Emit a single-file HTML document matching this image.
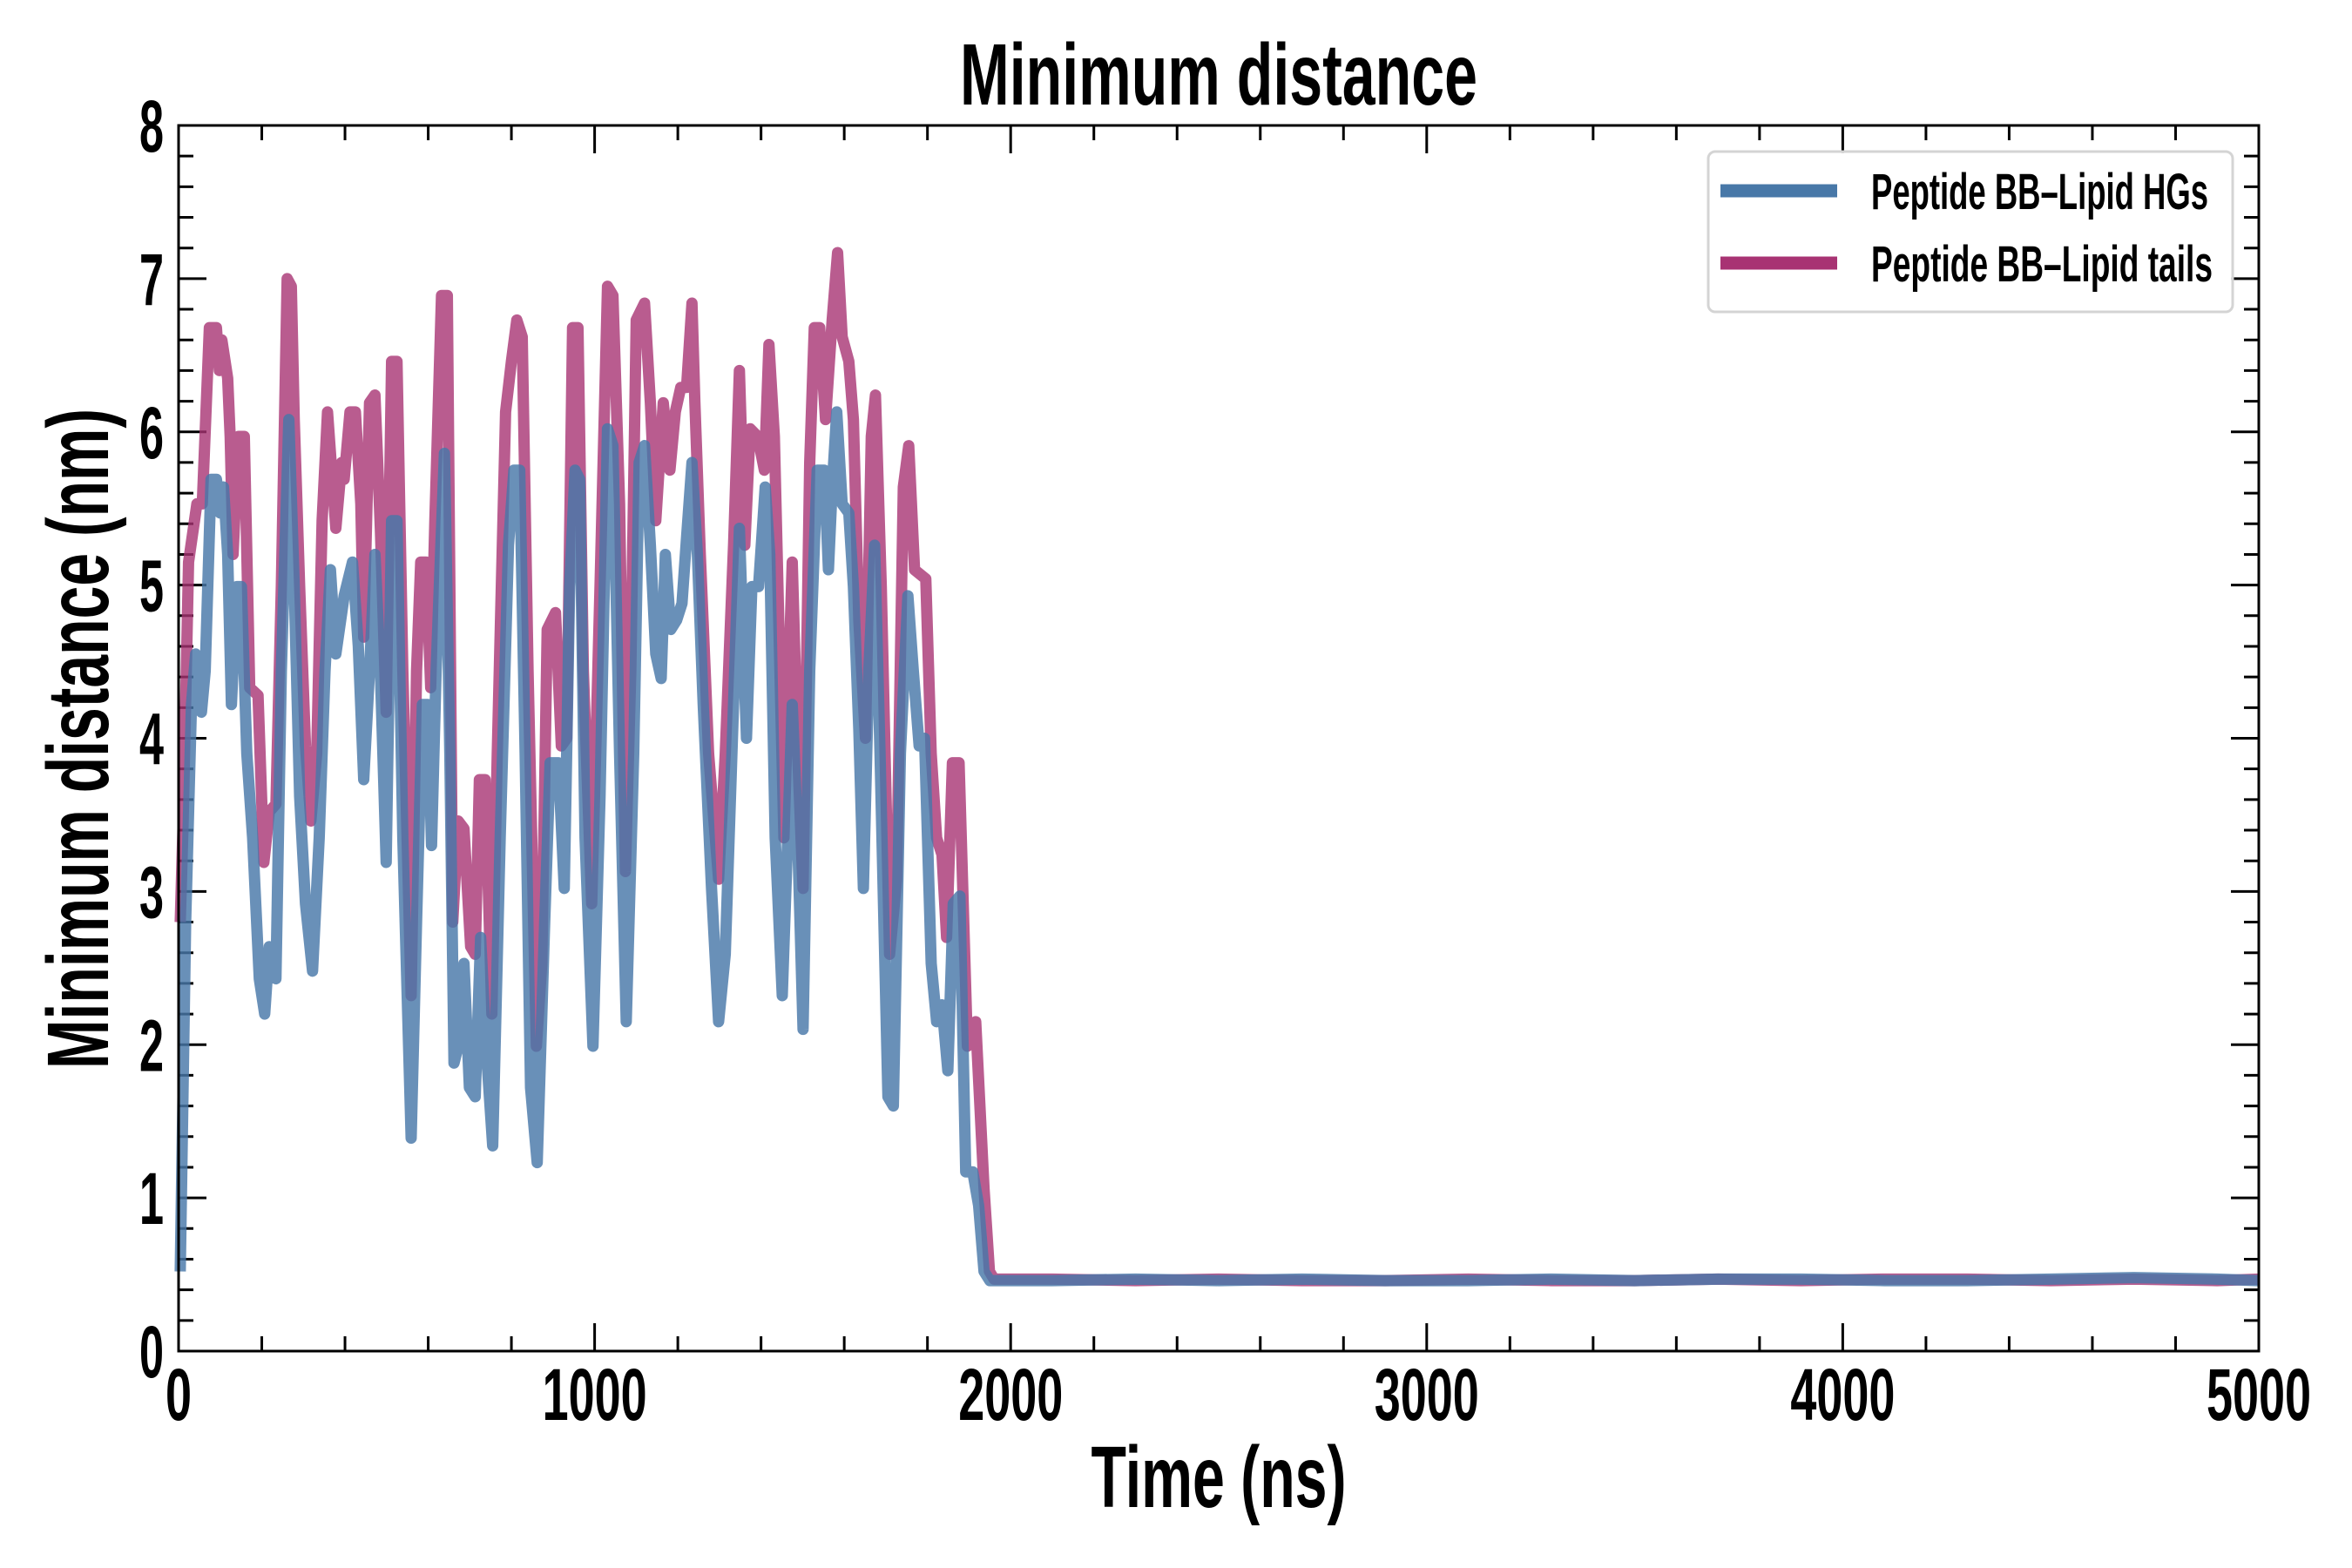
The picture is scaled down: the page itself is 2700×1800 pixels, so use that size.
<!DOCTYPE html>
<html><head><meta charset="utf-8"><style>
html,body{margin:0;padding:0;background:#fff;width:2700px;height:1800px;overflow:hidden}
svg text{font-family:"Liberation Sans Narrow","Liberation Sans",sans-serif;font-weight:bold;fill:#000}
</style></head><body>
<svg id="chart" width="2700" height="1800" viewBox="0 0 2700 1800" xmlns="http://www.w3.org/2000/svg">
<text x="1399" y="120" font-size="100" text-anchor="middle" textLength="594" lengthAdjust="spacingAndGlyphs">Minimum distance</text>
<text x="1399" y="1730" font-size="100" text-anchor="middle" textLength="293" lengthAdjust="spacingAndGlyphs">Time (ns)</text>
<text transform="translate(124,848) rotate(-90)" x="0" y="0" font-size="100" text-anchor="middle" textLength="758" lengthAdjust="spacingAndGlyphs">Minimum distance (nm)</text>
<g id="ticks"></g>
<g id="lines"></g>
<rect x="205" y="144" width="2388" height="1407" fill="none" stroke="#000" stroke-width="3"/>
<g>
<rect x="1961" y="174" width="602" height="184" rx="8" fill="#fff" fill-opacity="0.85" stroke="#d4d4d4" stroke-width="3"/>
<line x1="1975" y1="219" x2="2109" y2="219" stroke="#4878a8" stroke-width="15"/>
<text x="2148" y="240" font-size="58" textLength="387" lengthAdjust="spacingAndGlyphs">Peptide BB–Lipid HGs</text>
<line x1="1975" y1="302" x2="2109" y2="302" stroke="#a83373" stroke-width="15"/>
<text x="2148" y="323" font-size="58" textLength="392" lengthAdjust="spacingAndGlyphs">Peptide BB–Lipid tails</text>
</g>
</svg>
<script>
const xTicks=[0,1000,2000,3000,4000,5000];
const yTicks=[0,1,2,3,4,5,6,7,8];
const tailsT=[4,11,24,44,57,74,91,98,104,118,124,131,144,158,171,191,205,218,234,247,261,271,278,291,305,318,332,345,358,378,392,398,412,425,438,445,459,472,485,499,512,525,539,559,572,582,595,606,616,632,646,659,672,686,702,713,723,737,753,766,786,800,813,826,840,860,873,886,906,920,933,947,960,973,993,1013,1031,1044,1060,1074,1087,1100,1120,1134,1147,1165,1181,1194,1207,1221,1234,1241,1254,1274,1298,1314,1334,1348,1361,1374,1392,1408,1419,1432,1455,1475,1488,1501,1517,1528,1541,1555,1571,1584,1595,1611,1622,1635,1651,1665,1675,1689,1709,1726,1742,1755,1769,1796,1809,1822,1835,1846,1860,1876,1896,1916,1936,1949,1960,2100,2300,2500,2700,2900,3100,3300,3500,3700,3900,4100,4300,4500,4700,4900,5000];
const tailsV=[2.8,3.46,5.15,5.53,5.53,6.68,6.68,6.4,6.6,6.35,5.97,5.2,5.97,5.97,4.33,4.28,3.19,3.52,3.57,4.99,7.0,6.95,6.08,4.99,3.95,3.46,3.9,5.42,6.13,5.37,5.8,5.69,6.13,6.13,5.53,4.66,6.19,6.24,5.37,4.17,6.46,6.46,4.44,2.32,4.44,5.15,5.15,4.33,5.42,6.89,6.89,2.8,3.46,3.41,2.64,2.59,3.73,3.73,2.2,3.9,6.13,6.46,6.73,6.62,4.44,1.99,2.53,4.71,4.82,3.95,4.0,6.68,6.68,4.44,2.92,4.99,6.95,6.89,5.53,3.13,4.44,6.73,6.84,6.19,5.42,6.19,5.75,6.13,6.29,6.29,6.84,6.19,5.2,3.9,3.08,3.9,5.26,6.4,5.26,6.02,5.97,5.75,6.57,5.97,3.35,5.15,3.9,3.02,5.8,6.68,6.68,6.08,6.73,7.17,6.62,6.46,6.08,4.77,4.0,5.97,6.24,4.99,2.59,3.08,5.64,5.91,5.1,5.04,3.9,3.35,3.24,2.7,3.84,3.84,1.99,2.15,1.06,0.52,0.47,0.47,0.46,0.47,0.46,0.46,0.47,0.46,0.46,0.47,0.46,0.47,0.47,0.46,0.47,0.46,0.47];
const hgsT=[4,17,31,41,55,64,78,91,100,108,118,127,140,151,164,178,194,207,218,234,247,265,278,291,305,322,338,352,365,378,398,418,432,445,459,472,485,499,512,525,539,559,572,586,599,608,619,639,652,662,672,686,699,713,726,739,755,773,793,806,820,833,846,862,880,893,913,927,940,953,964,977,996,1013,1031,1044,1060,1076,1094,1107,1120,1134,1147,1160,1170,1183,1197,1210,1221,1234,1247,1261,1281,1298,1314,1330,1348,1365,1378,1394,1410,1421,1434,1451,1475,1488,1501,1517,1535,1552,1562,1571,1582,1595,1611,1622,1635,1646,1659,1673,1686,1705,1718,1735,1753,1766,1780,1793,1809,1822,1835,1849,1862,1878,1892,1909,1923,1936,1950,2100,2300,2500,2700,2900,3100,3300,3500,3700,3900,4100,4300,4500,4700,4900,5000];
const hgsV=[0.52,2.8,4.22,4.55,4.17,4.44,5.69,5.69,5.47,5.64,5.2,4.22,4.99,4.99,3.9,3.35,2.43,2.2,2.64,2.43,4.44,6.08,4.99,3.62,2.92,2.48,3.35,4.44,5.1,4.55,4.93,5.15,4.6,3.73,4.44,5.2,4.44,3.19,5.42,5.42,3.35,1.39,2.8,4.22,4.22,3.3,4.44,5.86,3.9,1.88,1.99,2.53,1.72,1.66,2.7,1.99,1.34,3.35,5.26,5.75,5.75,3.9,1.72,1.23,2.8,3.84,3.84,3.02,4.99,5.75,5.69,3.35,1.99,3.62,6.02,5.91,3.9,2.15,3.9,5.8,5.91,5.26,4.55,4.39,5.2,4.71,4.77,4.88,5.31,5.8,5.2,4.22,3.02,2.15,2.59,3.9,5.37,4.0,4.99,4.99,5.64,5.2,3.35,2.32,4.22,3.35,2.1,4.44,5.75,5.75,5.1,5.64,6.13,5.53,5.47,4.99,4.06,3.02,4.44,5.26,3.9,1.66,1.6,3.9,4.93,4.44,3.95,4.0,2.53,2.15,2.26,1.83,2.92,2.97,1.17,1.17,0.95,0.52,0.46,0.46,0.47,0.46,0.47,0.46,0.46,0.47,0.46,0.47,0.47,0.46,0.46,0.47,0.48,0.47,0.46,0.47];
const L=205,R=2593,T=144,B=1551;
const xs=t=>L+(t/5000)*(R-L);
const ys=v=>B-(v/8)*(B-T);
const NS='http://www.w3.org/2000/svg';
const tg=document.getElementById('ticks');
function ln(x1,y1,x2,y2){const l=document.createElementNS(NS,'line');l.setAttribute('x1',x1);l.setAttribute('y1',y1);l.setAttribute('x2',x2);l.setAttribute('y2',y2);l.setAttribute('stroke','#000');l.setAttribute('stroke-width',3);


tg.appendChild(l);}
for(let t=0;t<=5000;t+=200){const len=(t%1000===0)?32:17;const x=xs(t);ln(x,B,x,B-len);ln(x,T,x,T+len);}
for(let k=0;k<=40;k++){const v=k*0.2;const len=(k%5===0)?32:17;const y=ys(v);ln(L,y,L+len,y);ln(R,y,R-len,y);}
xTicks.forEach(t=>{const e=document.createElementNS(NS,'text');e.setAttribute('x',xs(t));e.setAttribute('y',1630);e.setAttribute('font-size',84);e.setAttribute('text-anchor','middle');e.setAttribute('textLength',String(t).length*30);e.setAttribute('lengthAdjust','spacingAndGlyphs');e.textContent=t;


tg.appendChild(e);});
yTicks.forEach(v=>{const e=document.createElementNS(NS,'text');e.setAttribute('x',188);e.setAttribute('y',ys(v)+30);e.setAttribute('font-size',84);e.setAttribute('text-anchor','end');e.setAttribute('textLength',28);e.setAttribute('lengthAdjust','spacingAndGlyphs');e.textContent=v;


tg.appendChild(e);});
const lg=document.getElementById('lines');
function series(T_,V_,col,op,name){const p=document.createElementNS(NS,'polyline');p.setAttribute('points',T_.map((t,i)=>xs(t)+','+ys(V_[i])).join(' '));p.setAttribute('fill','none');p.setAttribute('stroke',col);p.setAttribute('stroke-opacity',op);p.setAttribute('stroke-width',13);p.setAttribute('stroke-linejoin','round');


lg.appendChild(p);}
series(tailsT,tailsV,'#a83373',0.8,'tails-line');
series(hgsT,hgsV,'#4878a8',0.82,'hgs-line');
</script>
</body></html>
